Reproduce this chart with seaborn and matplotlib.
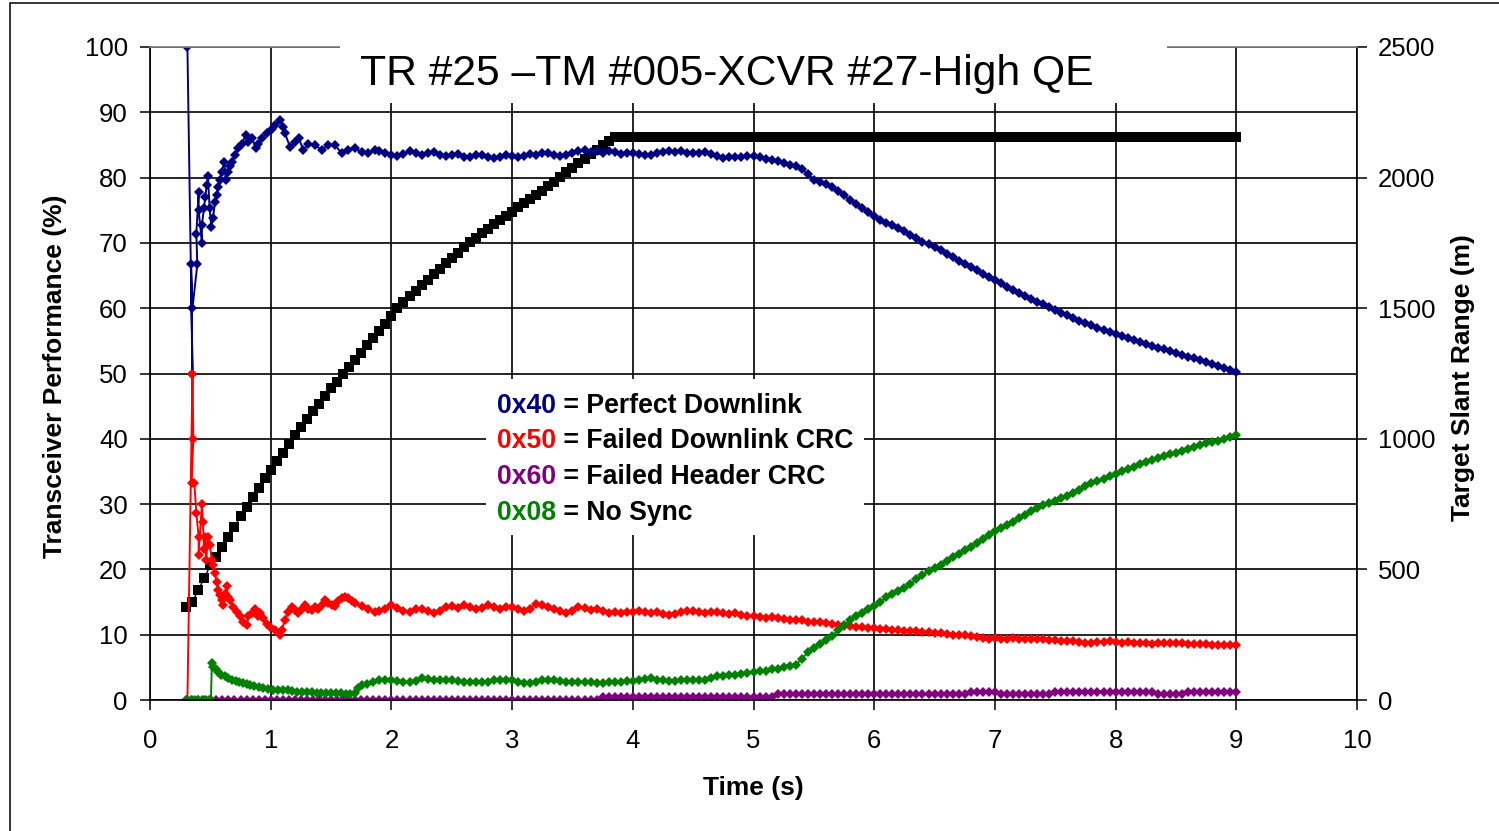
import numpy as np
import matplotlib
matplotlib.use("Agg")
import matplotlib.pyplot as plt
import seaborn as sns
from matplotlib.patches import Rectangle

# ---------------- data ----------------
TITLE = "TR #25 \u2013TM #005-XCVR #27-High QE"
X_LABEL = "Time (s)"
Y_LABEL = "Transceiver Performance (%)"
Y2_LABEL = "Target Slant Range (m)"
LEGEND_CODES = ["0x40", "0x50", "0x60", "0x08"]
LEGEND_TEXT = [" = Perfect Downlink", " = Failed Downlink CRC",
               " = Failed Header CRC", " = No Sync"]
COLORS = {"0x40": "#000080", "0x50": "#FF0000", "0x60": "#800080", "0x08": "#008000"}

# sample times of the regular part of the record
T_GRID = np.round(0.30 + 0.05 * np.arange(175), 2)   # 0.30 .. 9.00
T_LATE = np.round(1.90 + 0.05 * np.arange(143), 2)   # 1.90 .. 9.00

# 0x40 Perfect Downlink (%)
BLUE_EARLY_T = [0.310, 0.352, 0.340, 0.352, 0.392, 0.384, 0.403, 0.403, 0.430, 0.430,
                0.447, 0.458, 0.470, 0.480, 0.494, 0.508, 0.522, 0.539, 0.552, 0.566,
                0.580, 0.594, 0.616, 0.627, 0.649, 0.663, 0.682, 0.704, 0.732, 0.760,
                0.793, 0.815, 0.848, 0.875, 0.898, 0.925, 0.967, 1.008, 1.036, 1.077,
                1.105, 1.118, 1.160, 1.201, 1.234, 1.270, 1.312, 1.367, 1.422, 1.478,
                1.533, 1.588, 1.643, 1.698, 1.754, 1.809, 1.864]
BLUE_EARLY_V = [100, 50, 66.7, 60, 66.7, 71.4, 77.8, 75, 70, 72.7,
                75.3, 77.1, 78.9, 80.2, 75.3, 72.5, 73.8, 76.3, 77.3, 78.6,
                79.6, 80.9, 82.4, 79.6, 80.9, 81.7, 82.4, 83.5, 84.5, 85.2,
                86.5, 85.5, 86.0, 84.5, 85.2, 86.0, 86.8, 87.5, 88.0, 88.8,
                87.8, 86.8, 84.7, 85.5, 86.0, 84.2, 85.2, 85.0, 84.2, 85.0,
                85.0, 83.7, 84.2, 84.5, 83.9, 83.7, 84.2]
BLUE_LATE = [84.0, 83.8, 83.5, 83.3, 83.6, 84.0, 83.8, 83.5, 83.7, 83.9,
             83.5, 83.3, 83.5, 83.6, 83.2, 83.1, 83.4, 83.5, 83.2, 83.0,
             83.2, 83.4, 83.3, 83.1, 83.3, 83.6, 83.4, 83.7, 83.8, 83.5,
             83.3, 83.5, 83.8, 84.0, 84.2, 83.9, 84.0, 83.8, 84.1, 83.9,
             83.6, 83.8, 83.8, 83.6, 83.5, 83.4, 83.7, 83.9, 84.1, 83.9,
             84.0, 83.8, 83.7, 83.8, 83.9, 83.6, 83.3, 83.0, 83.1, 83.2,
             83.2, 83.3, 83.3, 83.1, 82.9, 82.7, 82.5, 82.2, 82.0, 81.7,
             81.3, 80.6, 79.7, 79.3, 79.0, 78.5, 78.0, 77.3, 76.6, 76.0,
             75.3, 74.7, 74.1, 73.5, 73.0, 72.7, 72.3, 71.8, 71.2, 70.7,
             70.2, 69.8, 69.4, 68.9, 68.3, 67.8, 67.3, 66.8, 66.3, 65.8,
             65.3, 64.8, 64.3, 63.8, 63.3, 62.8, 62.3, 61.8, 61.4, 61.0,
             60.6, 60.2, 59.8, 59.3, 58.9, 58.5, 58.1, 57.7, 57.4, 57.0,
             56.7, 56.4, 56.1, 55.7, 55.4, 55.1, 54.8, 54.5, 54.2, 53.9,
             53.7, 53.4, 53.1, 52.8, 52.6, 52.3, 52.0, 51.7, 51.4, 51.1,
             50.9, 50.6, 50.3]

# 0x50 Failed Downlink CRC (%)
RED_EARLY_T = [0.310, 0.352, 0.359, 0.345, 0.367, 0.384, 0.403, 0.403, 0.430, 0.438,
               0.447, 0.458, 0.466, 0.480, 0.497, 0.511, 0.525, 0.539, 0.552, 0.566,
               0.580, 0.594, 0.608, 0.621, 0.635, 0.649, 0.663, 0.690, 0.718, 0.746,
               0.773, 0.801, 0.815, 0.842, 0.870, 0.892, 0.911, 0.939, 0.967, 0.994,
               1.036, 1.077, 1.091, 1.118, 1.146, 1.174, 1.201, 1.229, 1.257, 1.284,
               1.312, 1.339, 1.367, 1.395, 1.422, 1.450, 1.477, 1.505, 1.533, 1.560,
               1.588, 1.616, 1.643, 1.671, 1.698, 1.754, 1.809, 1.864]
RED_EARLY_V = [0, 50, 40, 33.3, 33.3, 28.6, 25.0, 22.2, 30.0, 27.3,
               23.2, 25.0, 21.4, 25.0, 23.7, 21.4, 20.7, 19.4, 18.1, 16.8,
               16.1, 15.3, 14.5, 16.3, 17.4, 15.8, 15.3, 14.3, 13.5, 12.8,
               12.0, 11.5, 12.8, 13.3, 14.0, 12.8, 13.3, 12.5, 11.7, 11.2,
               10.7, 10.0, 10.7, 12.3, 13.5, 14.3, 13.8, 13.3, 14.0, 14.5,
               14.0, 13.8, 14.3, 14.0, 14.5, 15.3, 14.9, 14.5, 14.4, 15.1,
               15.6, 15.8, 15.6, 15.1, 14.8, 14.4, 14.0, 13.5]
RED_LATE = [13.6, 14.0, 14.5, 14.1, 13.6, 13.4, 14.0, 13.9, 13.6, 13.3,
            13.7, 14.2, 14.4, 14.1, 14.5, 14.3, 14.0, 14.1, 14.5, 14.3,
            14.0, 14.3, 14.2, 13.9, 13.7, 14.0, 14.7, 14.5, 14.2, 13.9,
            13.6, 13.3, 13.7, 14.3, 14.1, 13.8, 14.0, 13.7, 13.3, 13.5,
            13.3, 13.5, 13.4, 13.6, 13.5, 13.3, 13.5, 13.2, 13.0, 13.2,
            13.4, 13.6, 13.7, 13.5, 13.3, 13.4, 13.5, 13.3, 13.1, 13.3,
            13.0, 12.8, 12.8, 12.7, 12.6, 12.7, 12.5, 12.4, 12.3, 12.2,
            12.2, 12.0, 11.9, 11.9, 11.8, 11.6, 11.5, 11.4, 11.3, 11.2,
            11.2, 11.0, 11.0, 10.9, 10.8, 10.7, 10.7, 10.6, 10.6, 10.5,
            10.4, 10.4, 10.3, 10.2, 10.1, 10.0, 10.0, 9.9, 9.8, 9.6,
            9.5, 9.4, 9.5, 9.4, 9.4, 9.5, 9.4, 9.3, 9.3, 9.3,
            9.3, 9.2, 9.2, 9.1, 9.0, 9.0, 8.9, 8.8, 8.8, 8.9,
            8.9, 9.0, 8.9, 8.8, 8.9, 8.8, 8.7, 8.7, 8.6, 8.7,
            8.7, 8.8, 8.8, 8.7, 8.6, 8.6, 8.6, 8.5, 8.4, 8.4,
            8.4, 8.4, 8.4]

# 0x08 No Sync (%)
GREEN_EARLY_T = [0.310, 0.340, 0.370, 0.400, 0.430, 0.460, 0.490, 0.505, 0.512, 0.525,
                 0.545, 0.566, 0.590, 0.620, 0.649, 0.680, 0.710, 0.740, 0.770, 0.800,
                 0.830, 0.860, 0.900, 0.940, 0.980, 1.020, 1.060, 1.100, 1.140, 1.180,
                 1.220, 1.260, 1.300, 1.340, 1.380, 1.420, 1.460, 1.500, 1.540, 1.580,
                 1.620, 1.660, 1.700, 1.720, 1.760, 1.800, 1.850]
GREEN_EARLY_V = [0, 0, 0, 0, 0, 0, 0, 0, 5.6, 5.1,
                 4.7, 4.3, 3.9, 3.6, 3.3, 3.1, 2.9, 2.8, 2.6, 2.4,
                 2.3, 2.1, 2.0, 1.9, 1.7, 1.6, 1.6, 1.5, 1.5, 1.4,
                 1.3, 1.3, 1.2, 1.2, 1.1, 1.1, 1.0, 1.0, 1.0, 1.0,
                 0.9, 0.9, 1.0, 1.8, 2.3, 2.5, 2.8]
GREEN_LATE = [3.0, 3.0, 3.0, 2.9, 2.8, 2.7, 2.9, 3.3, 3.2, 3.1,
              3.0, 3.0, 3.0, 2.9, 2.7, 2.7, 2.7, 2.7, 2.8, 3.0,
              3.1, 3.0, 3.0, 2.8, 2.6, 2.6, 2.8, 3.0, 3.0, 3.0,
              2.9, 2.8, 2.8, 2.7, 2.7, 2.7, 2.6, 2.6, 2.7, 2.8,
              2.8, 2.9, 2.9, 3.1, 3.2, 3.3, 3.1, 3.0, 2.9, 2.9,
              3.0, 3.0, 3.0, 3.1, 3.1, 3.3, 3.7, 3.7, 3.8, 3.9,
              4.0, 4.2, 4.3, 4.4, 4.5, 4.7, 4.8, 5.0, 5.2, 5.4,
              6.3, 7.3, 8.0, 8.6, 9.2, 9.8, 10.7, 11.5, 12.2, 12.9,
              13.3, 13.9, 14.4, 15.0, 15.7, 16.3, 16.7, 17.2, 17.8, 18.5,
              19.2, 19.7, 20.2, 20.7, 21.3, 21.9, 22.4, 23.0, 23.5, 24.1,
              24.6, 25.2, 25.9, 26.3, 26.8, 27.3, 27.8, 28.4, 29.0, 29.4,
              29.8, 30.2, 30.5, 30.9, 31.3, 31.7, 32.2, 32.7, 33.2, 33.5,
              33.9, 34.3, 34.6, 35.0, 35.4, 35.7, 36.1, 36.4, 36.7, 37.0,
              37.3, 37.6, 37.9, 38.2, 38.4, 38.7, 39.0, 39.3, 39.5, 39.7,
              40.0, 40.3, 40.6]

# 0x60 Failed Header CRC (%), on T_GRID
PURPLE = [0, 0, 0, 0, 0, 0, 0, 0, 0, 0,
          0, 0, 0, 0, 0, 0, 0, 0, 0, 0,
          0, 0, 0, 0, 0, 0, 0, 0, 0, 0,
          0, 0, 0, 0, 0, 0, 0, 0, 0, 0,
          0, 0, 0, 0, 0, 0, 0, 0, 0, 0,
          0, 0, 0, 0, 0, 0, 0, 0, 0, 0,
          0, 0, 0, 0, 0, 0, 0, 0, 0, 0.5,
          0.5, 0.5, 0.5, 0.5, 0.5, 0.5, 0.5, 0.5, 0.5, 0.5,
          0.5, 0.5, 0.5, 0.5, 0.5, 0.5, 0.5, 0.5, 0.5, 0.5,
          0.5, 0.5, 0.5, 0.5, 0.5, 0.5, 0.5, 0.5, 0.9, 0.9,
          0.9, 0.9, 0.9, 0.9, 0.9, 0.9, 0.9, 0.9, 0.9, 0.9,
          0.9, 0.9, 0.9, 0.9, 0.9, 0.9, 0.9, 0.9, 0.9, 0.9,
          0.9, 0.9, 0.9, 0.9, 0.9, 0.9, 0.9, 0.9, 0.9, 0.9,
          1.3, 1.3, 1.3, 1.3, 1.3, 0.9, 0.9, 0.9, 0.9, 0.9,
          0.9, 0.9, 0.9, 0.9, 1.3, 1.3, 1.3, 1.3, 1.3, 1.3,
          1.3, 1.3, 1.3, 1.3, 1.3, 1.3, 1.3, 1.3, 1.3, 1.3,
          1.3, 0.9, 0.9, 0.9, 0.9, 0.9, 1.3, 1.3, 1.3, 1.3,
          1.3, 1.3, 1.3, 1.3, 1.3]

# Target slant range (m), on T_GRID
RANGE_M = [357, 376, 420, 468, 515, 549, 584, 625, 661, 705,
           740, 778, 812, 849, 881, 915, 945, 980, 1015, 1045,
           1075, 1107, 1135, 1165, 1195, 1218, 1248, 1275, 1303, 1330,
           1358, 1385, 1413, 1440, 1470, 1500, 1522, 1545, 1567, 1588,
           1609, 1630, 1651, 1672, 1692, 1713, 1733, 1753, 1770, 1787,
           1804, 1821, 1838, 1854, 1870, 1886, 1902, 1918, 1934, 1950,
           1967, 1985, 2003, 2021, 2038, 2055, 2072, 2090, 2107, 2124,
           2142, 2155, 2155, 2155, 2155, 2155, 2155, 2155, 2155, 2155,
           2155, 2155, 2155, 2155, 2155, 2155, 2155, 2155, 2155, 2155,
           2155, 2155, 2155, 2155, 2155, 2155, 2155, 2155, 2155, 2155,
           2155, 2155, 2155, 2155, 2155, 2155, 2155, 2155, 2155, 2155,
           2155, 2155, 2155, 2155, 2155, 2155, 2155, 2155, 2155, 2155,
           2155, 2155, 2155, 2155, 2155, 2155, 2155, 2155, 2155, 2155,
           2155, 2155, 2155, 2155, 2155, 2155, 2155, 2155, 2155, 2155,
           2155, 2155, 2155, 2155, 2155, 2155, 2155, 2155, 2155, 2155,
           2155, 2155, 2155, 2155, 2155, 2155, 2155, 2155, 2155, 2155,
           2155, 2155, 2155, 2155, 2155, 2155, 2155, 2155, 2155, 2155,
           2155, 2155, 2155, 2155, 2155]

X_TICKS = list(range(0, 11))
Y_TICKS = list(range(0, 101, 10))
Y2_TICKS = list(range(0, 2501, 500))

# ---------------- style ----------------
sns.set_style("white")
plt.rcParams["font.family"] = ["Liberation Sans", "DejaVu Sans"]
plt.rcParams["text.color"] = "black"
plt.rcParams["axes.labelcolor"] = "black"
plt.rcParams["xtick.color"] = "black"
plt.rcParams["ytick.color"] = "black"

W, H = 1499, 831
fig = plt.figure(figsize=(W / 100, H / 100), dpi=100)
fig.patch.set_facecolor("white")
ax = fig.add_axes([150 / W, 1 - 700 / H, 1207 / W, 653 / H])
ax2 = ax.twinx()

# colored series above the range series
ax.set_zorder(2)
ax.patch.set_visible(False)
ax2.set_zorder(1)
ax2.patch.set_visible(True)
ax2.patch.set_facecolor("white")

line_kw = dict(sort=False, estimator=None, legend=False, linewidth=1.4,
               markersize=4.6, markeredgewidth=0)

sns.lineplot(x=BLUE_EARLY_T + list(T_LATE), y=BLUE_EARLY_V + BLUE_LATE, ax=ax,
             color=COLORS["0x40"], marker="D", **line_kw)
sns.lineplot(x=RED_EARLY_T + list(T_LATE), y=RED_EARLY_V + RED_LATE, ax=ax,
             color=COLORS["0x50"], marker="D", **line_kw)
sns.lineplot(x=list(T_GRID), y=PURPLE, ax=ax,
             color=COLORS["0x60"], marker="D", **line_kw)
sns.lineplot(x=GREEN_EARLY_T + list(T_LATE), y=GREEN_EARLY_V + GREEN_LATE, ax=ax,
             color=COLORS["0x08"], marker="D", **line_kw)

sns.lineplot(x=list(T_GRID), y=RANGE_M, ax=ax2, color="black", marker="s",
             sort=False, estimator=None, legend=False, linewidth=1.0,
             markersize=7.0, markeredgewidth=0)

# axes limits / ticks
ax.set_xlim(0, 10)
ax.set_ylim(0, 100)
ax2.set_ylim(0, 2500)
ax.set_xticks(X_TICKS)
ax.set_yticks(Y_TICKS)
ax2.set_yticks(Y2_TICKS)
ax2.set_yticks(np.arange(250, 2500, 500), minor=True)
ax.set_xlabel("")
ax.set_ylabel("")
ax2.set_ylabel("")

# grid drawn by the lower axes so it stays behind every series
ax2.xaxis.set_visible(True)
ax2.tick_params(axis="x", which="both", bottom=False, top=False,
                labelbottom=False, labeltop=False)
ax2.grid(True, which="both", axis="y", color="black", linewidth=1.2)
ax2.grid(True, which="major", axis="x", color="black", linewidth=1.2)
ax.grid(False)

ax.tick_params(axis="x", direction="out", length=7, width=1.1, labelsize=18.5,
               pad=14, colors="black", bottom=True)
ax.tick_params(axis="y", direction="out", length=7, width=1.1, labelsize=18.5,
               pad=9, colors="black", left=True)
ax2.tick_params(axis="y", which="major", direction="out", length=7, width=1.1,
                labelsize=18.5, pad=8, colors="black", right=True)
ax2.tick_params(axis="y", which="minor", length=0)

for s in ["left", "bottom", "right"]:
    ax.spines[s].set_color("black")
    ax.spines[s].set_linewidth(1.2)
    ax.spines[s].set_visible(True)
ax.spines["top"].set_color("#808080")
ax.spines["top"].set_linewidth(1.2)
ax.spines["top"].set_visible(True)
for s in ax2.spines.values():
    s.set_visible(False)

# axis titles
fig.text(753 / W, 1 - 788 / H, X_LABEL, ha="center", va="center",
         fontsize=19, fontweight="bold", color="black")
fig.text(55 / W, 1 - 376 / H, Y_LABEL, ha="center", va="center",
         rotation=90, fontsize=19, fontweight="bold", color="black")
fig.text(1463 / W, 1 - 378 / H, Y2_LABEL, ha="center", va="center",
         rotation=90, fontsize=19, fontweight="bold", color="black")

# title box
fig.add_artist(Rectangle((340 / W, 1 - 103 / H), 827 / W, 83 / H,
                         transform=fig.transFigure, facecolor="white",
                         edgecolor="none", zorder=10))
fig.text(727 / W, 1 - 85 / H, TITLE, ha="center", va="baseline",
         fontsize=30.7, color="black", zorder=11)

# legend box
fig.add_artist(Rectangle((486 / W, 1 - 535 / H), 378 / W, 156 / H,
                         transform=fig.transFigure, facecolor="white",
                         edgecolor="none", zorder=10))
renderer = fig.canvas.get_renderer()
baselines = [413, 448, 484, 520]
for code, desc, b in zip(LEGEND_CODES, LEGEND_TEXT, baselines):
    t1 = fig.text(497 / W, 1 - b / H, code, color=COLORS[code], fontsize=19.2,
                  fontweight="bold", ha="left", va="baseline", zorder=11)
    bb = t1.get_window_extent(renderer)
    fig.text(bb.x1 / W, 1 - b / H, desc, color="black", fontsize=19.2,
             fontweight="bold", ha="left", va="baseline", zorder=11)

# outer frame of the chart area
fig.add_artist(Rectangle((10 / W, -0.2), 1.5, 1.2 - 3 / H,
                         transform=fig.transFigure, fill=False,
                         edgecolor="black", linewidth=1.1, clip_on=False,
                         zorder=12))

fig.savefig("out.png", dpi=100)
